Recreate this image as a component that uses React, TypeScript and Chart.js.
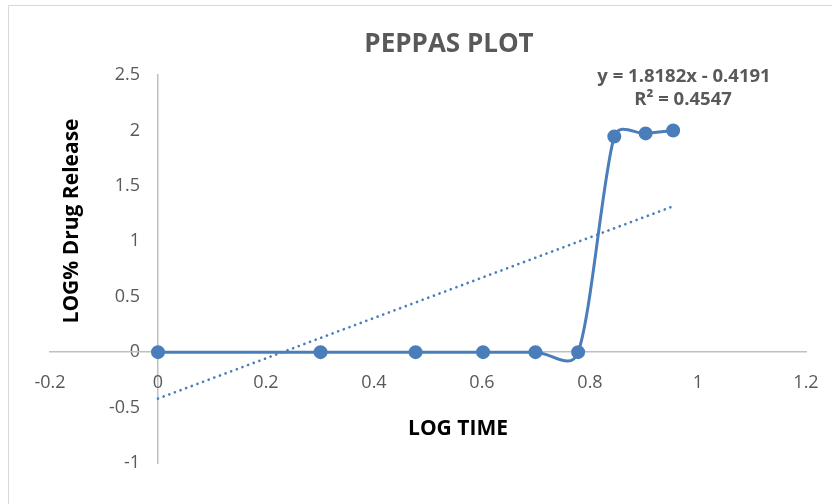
import React, { useEffect, useRef } from "react";
import { Chart, registerables } from "chart.js";

Chart.register(...registerables);

const logTime = [0, 0.301, 0.477, 0.602, 0.699, 0.778, 0.845, 0.903, 0.954];
const logRelease = [0, 0, 0, 0, 0, 0, 1.945, 1.973, 2.0];
const trendSlope = 1.8182;
const trendIntercept = -0.4191;
const trendXRange = [0, 0.954];
const chartTitle = "PEPPAS PLOT";
const xTitle = "LOG TIME";
const yTitle = "LOG% Drug Release";
const eqLine1 = "y = 1.8182x - 0.4191";
const eqLine2 = "R\u00b2 = 0.4547";

const BLUE = "#4a7ebb";
const GRAY_TEXT = "#595959";
const FONT = "'Open Sans', 'DejaVu Sans', sans-serif";

// Excel-style smoothing: Catmull-Rom (1/6) control points, each capped at half the segment length
const excelSmooth = {
  id: "excelSmooth",
  beforeDatasetDraw(chart: any, args: any) {
    if (args.index !== 0) return;
    const meta = chart.getDatasetMeta(0);
    const pts = meta.data;
    const n = pts.length;
    const dist = (a: any, b: any) => Math.hypot(b.x - a.x, b.y - a.y);
    for (let i = 0; i < n; i++) {
      const p = pts[i];
      const prev = pts[Math.max(i - 1, 0)];
      const next = pts[Math.min(i + 1, n - 1)];
      const vx = next.x - prev.x;
      const vy = next.y - prev.y;
      const vlen = Math.hypot(vx, vy) || 1;
      const base = vlen / 6;
      const lenIn = i > 0 ? Math.min(base, dist(prev, p) / 2) : 0;
      const lenOut = i < n - 1 ? Math.min(base, dist(p, next) / 2) : 0;
      p.cp1x = p.x - (vx / vlen) * lenIn;
      p.cp1y = p.y - (vy / vlen) * lenIn;
      p.cp2x = p.x + (vx / vlen) * lenOut;
      p.cp2y = p.y + (vy / vlen) * lenOut;
    }
    meta.dataset._pointsUpdated = true;
  },
};

const textPlugin = {
  id: "excelText",
  beforeDraw(chart: any) {
    const ctx = chart.ctx;
    ctx.save();
    ctx.fillStyle = "#ffffff";
    ctx.fillRect(0, 0, chart.width, chart.height);
    ctx.strokeStyle = "#d9d9d9";
    ctx.lineWidth = 1;
    ctx.strokeRect(8.5, 5.5, chart.width + 20, chart.height + 20);
    ctx.restore();
  },
  afterDraw(chart: any) {
    const ctx = chart.ctx;
    ctx.save();
    ctx.textAlign = "center";
    ctx.textBaseline = "middle";
    ctx.fillStyle = GRAY_TEXT;
    ctx.font = `bold 26px ${FONT}`;
    ctx.fillText(chartTitle, 449, 45);
    ctx.font = `bold 18.5px ${FONT}`;
    ctx.fillText(eqLine1, 684, 77);
    ctx.fillText(eqLine2, 683, 100);
    ctx.fillStyle = "#000000";
    ctx.font = `bold 21px ${FONT}`;
    ctx.fillText(xTitle, 458, 429);
    ctx.translate(72, 221);
    ctx.rotate(-Math.PI / 2);
    ctx.fillText(yTitle, 0, 0);
    ctx.restore();
  },
};

const tickFmt = (v: any) => String(Math.round(Number(v) * 10) / 10);

export default function App() {
  const ref = useRef<HTMLCanvasElement>(null);
  useEffect(() => {
    document.body.style.margin = "0";
    const points = logTime.map((x, i) => ({ x, y: logRelease[i] }));
    const trend = trendXRange.map((x) => ({ x, y: trendSlope * x + trendIntercept }));
    const chart = new Chart(ref.current as HTMLCanvasElement, {
      type: "scatter",
      data: {
        datasets: [
          {
            label: "Log % release",
            data: points,
            xAxisID: "x",
            yAxisID: "y",
            showLine: true,
            borderColor: BLUE,
            backgroundColor: BLUE,
            borderWidth: 3,
            pointRadius: 5.5,
            pointBackgroundColor: BLUE,
            pointBorderColor: BLUE,
            tension: 0.5,
            order: 1,
          },
          {
            label: "Linear trend",
            data: trend,
            xAxisID: "x",
            yAxisID: "y",
            showLine: true,
            borderColor: BLUE,
            borderWidth: 2.7,
            borderDash: [0.01, 6],
            borderCapStyle: "round",
            pointRadius: 0,
            tension: 0,
            order: 2,
          },
        ],
      },
      options: {
        responsive: false,
        animation: false,
        layout: { padding: { left: 50, right: 26, top: 75, bottom: 41 } },
        plugins: {
          legend: { display: false },
          title: { display: false },
          tooltip: { enabled: false },
        },
        scales: {
          y: {
            type: "linear",
            position: { x: 0 },
            min: -1,
            max: 2.5,
            afterFit: (s: any) => {
              s.width = 0;
            },
            grid: { display: false, drawTicks: false },
            border: { display: true, color: "#bfbfbf", width: 1.5 },
            ticks: { display: false, stepSize: 0.5 },
          },
          yLabels: {
            type: "linear",
            axis: "y",
            position: { x: -0.0333 },
            min: -1,
            max: 2.5,
            afterFit: (s: any) => {
              s.width = 0;
            },
            grid: { display: false, drawTicks: false },
            border: { display: false },
            ticks: {
              stepSize: 0.5,
              padding: 0,
              color: GRAY_TEXT,
              font: { family: FONT, size: 18 },
              callback: tickFmt,
            },
          },
          x: {
            type: "linear",
            position: { y: 0 },
            min: -0.2,
            max: 1.2,
            afterFit: (s: any) => {
              s.height = 0;
            },
            grid: { display: false, drawTicks: true, tickLength: 20 },
            border: { display: true, color: "#bfbfbf", width: 1.5 },
            ticks: {
              stepSize: 0.2,
              padding: 0,
              color: GRAY_TEXT,
              font: { family: FONT, size: 18 },
              callback: tickFmt,
            },
          },
        },
      },
      plugins: [textPlugin, excelSmooth],
    } as any);
    return () => chart.destroy();
  }, []);
  return <canvas ref={ref} width={832} height={504} style={{ display: "block" }} />;
}
